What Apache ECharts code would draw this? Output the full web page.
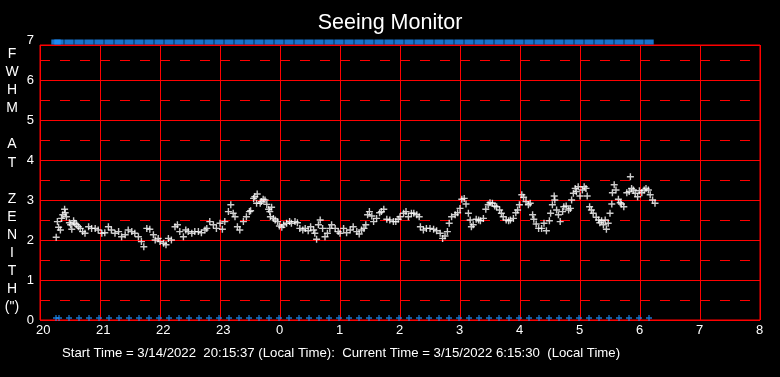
<!DOCTYPE html>
<html>
<head>
<meta charset="utf-8">
<script src="https://cdn.jsdelivr.net/npm/echarts@6/dist/echarts.min.js"></script>
<style>
  html, body { margin: 0; padding: 0; background: #000; }
  #chart { width: 780px; height: 377px; }
</style>
</head>
<body>
<div id="chart"></div>
<script>
const FONT = '"Liberation Sans", Arial, sans-serif';

// axis ticks
const xTickLabels = ['20', '21', '22', '23', '0', '1', '2', '3', '4', '5', '6', '7', '8'];
const halfLevels = [0.5, 1.5, 2.5, 3.5, 4.5, 5.5, 6.5];
const yAxisTitle = 'F\nW\nH\nM\n\nA\nT\n\nZ\nE\nN\nI\nT\nH\n(")';

// minutes after 20:00 of the blue status markers
const markerMinutes = [16, 19, 29, 39, 49, 59, 69, 79, 89, 99, 109, 119, 129, 139, 149, 159, 169, 179,
  189, 199, 209, 219, 229, 239, 249, 259, 269, 279, 289, 299, 309, 319, 329, 339, 349, 359, 369, 379,
  389, 399, 409, 419, 429, 439, 449, 459, 469, 479, 489, 499, 509, 519, 529, 539, 549, 559, 569, 579,
  589, 599, 609];

// [hour (20 = 20:00, 24+ = next day), FWHM arcsec]
const seeing = [
  [20.27, 2.07], [20.29, 2.46], [20.31, 2.32], [20.34, 2.25], [20.36, 2.54], [20.38, 2.63], [20.41, 2.77],
  [20.42, 2.68], [20.44, 2.58], [20.49, 2.43], [20.51, 2.38], [20.53, 2.27], [20.56, 2.48], [20.58, 2.42],
  [20.61, 2.38], [20.64, 2.33], [20.67, 2.29], [20.71, 2.21], [20.75, 2.17], [20.81, 2.33], [20.86, 2.29],
  [20.92, 2.29], [20.97, 2.25], [21.03, 2.17], [21.08, 2.18], [21.14, 2.33], [21.19, 2.25], [21.25, 2.17],
  [21.31, 2.21], [21.36, 2.08], [21.42, 2.13], [21.47, 2.25], [21.53, 2.21], [21.58, 2.17], [21.64, 2.08],
  [21.69, 1.96], [21.73, 1.83], [21.78, 2.29], [21.83, 2.27], [21.89, 2.13], [21.92, 2.0], [21.97, 2.04],
  [22.0, 1.96], [22.06, 1.92], [22.1, 1.88], [22.14, 2.04], [22.19, 2.0], [22.25, 2.33], [22.29, 2.38],
  [22.33, 2.21], [22.39, 2.08], [22.43, 2.25], [22.47, 2.21], [22.53, 2.17], [22.58, 2.21], [22.64, 2.21],
  [22.69, 2.18], [22.75, 2.25], [22.78, 2.29], [22.83, 2.46], [22.89, 2.38], [22.94, 2.29], [23.0, 2.42],
  [23.04, 2.27], [23.08, 2.46], [23.14, 2.71], [23.18, 2.88], [23.22, 2.67], [23.25, 2.58], [23.29, 2.33],
  [23.33, 2.25], [23.39, 2.46], [23.44, 2.58], [23.49, 2.71],
  [23.51, 2.73], [23.56, 3.04], [23.58, 3.08], [23.62, 3.15], [23.61, 2.92], [23.67, 2.92], [23.69, 2.96],
  [23.72, 3.02], [23.75, 3.0], [23.78, 2.89], [23.81, 2.77], [23.83, 2.71], [23.86, 2.82], [23.84, 2.58],
  [23.89, 2.54], [23.92, 2.5], [23.96, 2.46], [23.99, 2.35], [24.03, 2.32], [24.06, 2.38], [24.11, 2.42],
  [24.16, 2.46], [24.19, 2.42], [24.25, 2.46], [24.29, 2.43], [24.33, 2.29], [24.38, 2.25], [24.42, 2.29],
  [24.47, 2.23], [24.51, 2.33], [24.56, 2.25], [24.58, 2.17], [24.61, 2.02], [24.64, 2.38], [24.67, 2.5],
  [24.71, 2.29], [24.75, 2.08], [24.79, 2.17], [24.83, 2.29], [24.86, 2.38], [24.92, 2.29], [24.97, 2.21],
  [25.0, 2.17], [25.06, 2.29], [25.11, 2.18], [25.17, 2.25], [25.22, 2.33], [25.28, 2.21], [25.32, 2.15],
  [25.36, 2.25], [25.4, 2.29], [25.43, 2.38], [25.46, 2.63], [25.49, 2.71], [25.53, 2.6], [25.56, 2.46],
  [25.61, 2.54], [25.66, 2.68], [25.69, 2.71], [25.73, 2.77], [25.78, 2.52], [25.83, 2.5], [25.89, 2.46],
  [25.93, 2.46], [25.97, 2.52], [26.0, 2.58], [26.06, 2.67], [26.1, 2.71], [26.14, 2.58], [26.19, 2.67],
  [26.23, 2.67], [26.28, 2.63], [26.32, 2.58], [26.34, 2.33], [26.39, 2.25], [26.44, 2.29], [26.5, 2.29],
  [26.56, 2.27], [26.61, 2.23], [26.67, 2.17], [26.71, 2.04], [26.75, 2.1], [26.79, 2.21], [26.82, 2.42],
  [26.86, 2.58], [26.92, 2.63], [26.96, 2.68], [27.0, 2.79], [27.03, 3.02], [27.07, 3.04], [27.1, 2.9],
  [27.14, 2.67], [27.17, 2.5], [27.19, 2.33], [27.22, 2.38], [27.27, 2.52], [27.31, 2.5], [27.34, 2.48],
  [27.39, 2.54], [27.43, 2.77], [27.47, 2.88], [27.5, 2.93], [27.54, 2.92], [27.58, 2.85], [27.61, 2.83],
  [27.66, 2.75], [27.69, 2.67], [27.72, 2.58], [27.77, 2.5], [27.81, 2.48], [27.84, 2.5], [27.89, 2.54],
  [27.93, 2.68], [27.96, 2.75], [27.99, 2.88], [28.03, 3.13], [28.06, 3.07], [28.1, 2.96], [28.14, 2.88],
  [28.17, 2.92], [28.21, 2.63], [28.23, 2.52], [28.27, 2.4], [28.31, 2.29], [28.36, 2.29], [28.4, 2.42],
  [28.44, 2.23], [28.49, 2.48], [28.51, 2.67], [28.54, 2.88], [28.57, 3.1], [28.58, 3.0], [28.61, 2.75],
  [28.64, 2.63], [28.67, 2.46], [28.71, 2.71], [28.73, 2.83], [28.77, 2.85], [28.81, 2.75], [28.84, 2.79],
  [28.86, 3.0], [28.89, 3.17], [28.92, 3.29], [28.94, 3.21], [28.97, 3.33], [29.0, 3.1], [29.04, 3.25],
  [29.07, 3.33], [29.1, 3.29], [29.12, 3.1], [29.16, 2.83], [29.19, 2.75], [29.22, 2.67], [29.27, 2.57],
  [29.31, 2.5], [29.33, 2.43], [29.36, 2.48], [29.39, 2.38], [29.42, 2.5], [29.44, 2.27], [29.47, 2.42],
  [29.5, 2.67], [29.53, 2.9], [29.54, 3.18], [29.57, 3.38], [29.6, 3.25], [29.64, 3.02], [29.67, 2.93],
  [29.69, 2.9], [29.73, 2.83], [29.78, 3.18], [29.82, 3.21], [29.84, 3.58], [29.86, 3.29], [29.89, 3.25],
  [29.92, 3.17], [29.96, 3.08], [29.99, 3.23], [30.03, 3.18], [30.07, 3.25], [30.1, 3.29], [30.14, 3.25],
  [30.17, 3.13], [30.21, 3.0], [30.25, 2.92]
];

const PLUS = 'path://M2.8,0h1.4v7h-1.4zM0,2.8h7v1.4h-7z';
const SMALL_PLUS = 'path://M2.35,0h1.3v6h-1.3zM0,2.35h6v1.3h-6z';
const RED = '#ff0000';
const BLUE = '#1e90ff';

const chart = echarts.init(document.getElementById('chart'));

const option = {
  backgroundColor: '#000',
  animation: false,
  title: [
    { text: 'Seeing Monitor', left: 'center', top: 7,
      textStyle: { color: '#fff', fontSize: 21.5, fontWeight: 'normal', fontFamily: FONT } },
    { text: 'Start Time = 3/14/2022  20:15:37 (Local Time):  Current Time = 3/15/2022 6:15:30  (Local Time)',
      left: 62, top: 347, padding: 0,
      textStyle: { color: '#fff', fontSize: 13.2, fontWeight: 'normal', fontFamily: FONT } }
  ],
  graphic: [{
    type: 'text', x: 12, y: 45,
    style: { text: yAxisTitle, fill: '#fff', font: '14px ' + FONT, textAlign: 'center', lineHeight: 18.1 }
  }],
  grid: [
    // frame + grid lines (top border sits just under the 7 label)
    { left: 40, right: 20, top: 45, bottom: 57, show: true, borderColor: RED, borderWidth: 1, backgroundColor: 'transparent' },
    // value space 0..7 for labels and marks
    { left: 40, right: 20, top: 40, bottom: 57 }
  ],
  xAxis: [
    { gridIndex: 0, type: 'value', min: 20, max: 32, interval: 1,
      axisLine: { show: false }, axisTick: { show: false },
      splitLine: { show: true, lineStyle: { color: RED, width: 1 } },
      axisLabel: {
        margin: 4,
        formatter: v => '{a|' + xTickLabels[Math.round(v - 20)] + '}',
        rich: { a: { width: 8, align: 'left', color: '#fff', fontSize: 13, fontFamily: FONT } }
      } },
    { gridIndex: 1, type: 'value', min: 20, max: 32, interval: 1, show: false }
  ],
  yAxis: [
    { gridIndex: 0, type: 'value', min: 0, max: 6.875, interval: 1,
      axisLine: { show: false }, axisTick: { show: false }, axisLabel: { show: false },
      splitLine: { show: true, lineStyle: { color: RED, width: 1 } } },
    { gridIndex: 1, type: 'value', min: 0, max: 7, interval: 1,
      axisLine: { show: false }, axisTick: { show: false }, splitLine: { show: false },
      axisLabel: { margin: 6, color: '#fff', fontSize: 13, fontFamily: FONT } }
  ],
  series: [
    {
      name: 'half levels', type: 'scatter', xAxisIndex: 1, yAxisIndex: 1, data: [], z: 1,
      markLine: {
        silent: true, symbol: 'none', label: { show: false },
        lineStyle: { color: RED, width: 1, type: [10, 10] },
        data: halfLevels.map(v => ({ yAxis: v }))
      }
    },
    {
      name: 'top status', type: 'scatter', xAxisIndex: 1, yAxisIndex: 1, z: 3,
      symbol: 'rect', symbolSize: [9.4, 5], itemStyle: { color: BLUE },
      data: markerMinutes.map(m => [20 + m / 60, 6.95])
    },
    {
      name: 'bottom status', type: 'scatter', xAxisIndex: 1, yAxisIndex: 1, z: 3,
      symbol: SMALL_PLUS, symbolSize: 6, itemStyle: { color: BLUE },
      data: markerMinutes.map(m => [20 + m / 60, 0.05])
    },
    {
      name: 'FWHM', type: 'scatter', xAxisIndex: 1, yAxisIndex: 1, z: 5,
      symbol: PLUS, symbolSize: 7, itemStyle: { color: '#fff' },
      data: seeing
    }
  ]
};

chart.setOption(option);
</script>
</body>
</html>
